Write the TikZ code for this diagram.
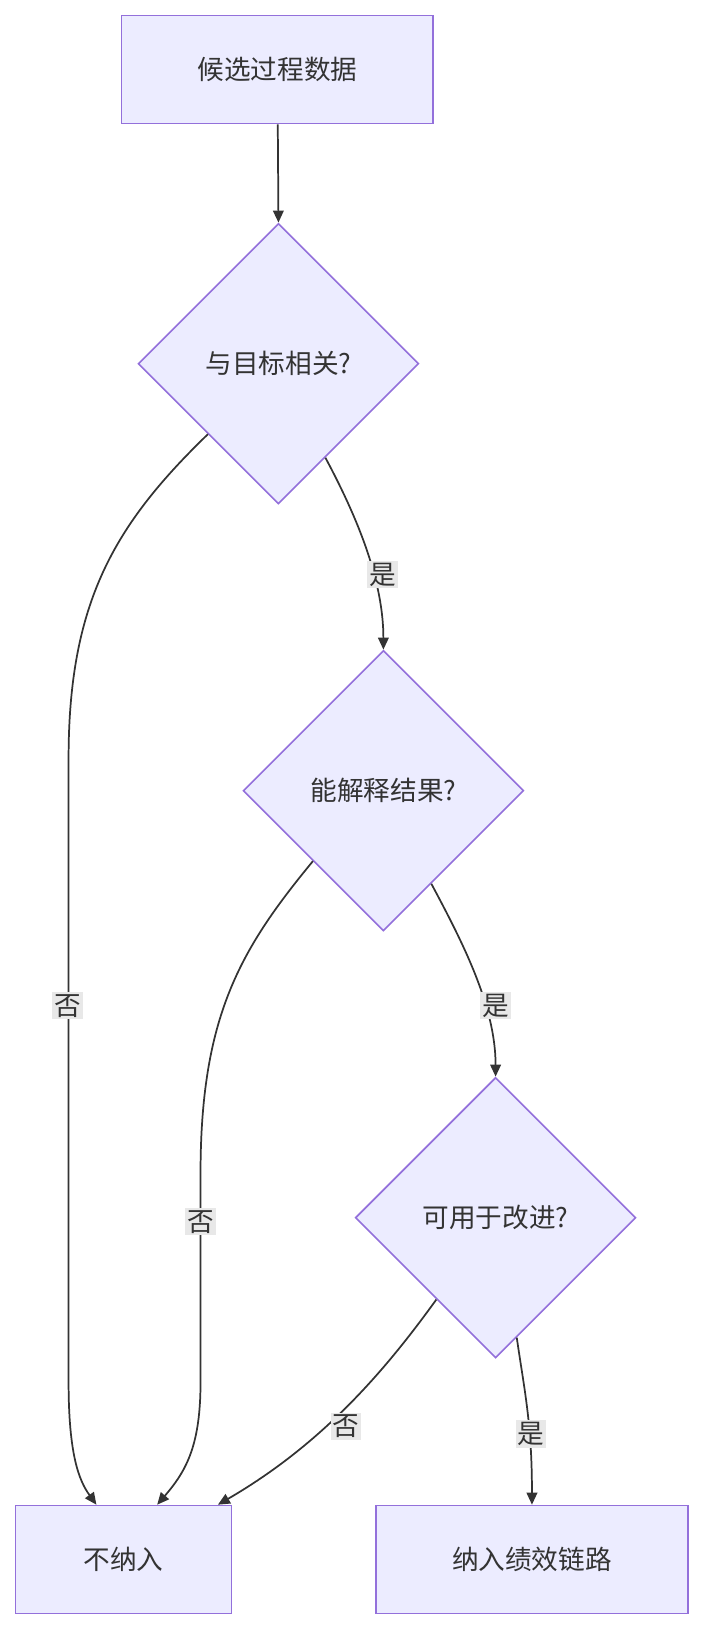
\documentclass[tikz,border=0pt]{standalone}
\usepackage{fontspec}
\setmainfont{Noto Sans CJK SC}
\usetikzlibrary{shapes.geometric,calc,arrows.meta}
\definecolor{nfill}{HTML}{ECECFF}
\definecolor{nline}{HTML}{9370DB}
\definecolor{ed}{HTML}{333333}
\definecolor{lbl}{HTML}{E8E8E8}
\begin{document}
\begin{tikzpicture}[x=0.78pt,y=-0.78pt,
  every node/.style={font=\fontsize{20}{24}\selectfont, text=ed},
  box/.style={draw=nline, fill=nfill, line width=1.2pt, rectangle, inner sep=0pt},
  dia/.style={draw=nline, fill=nfill, line width=1.2pt, diamond, minimum width=270*0.78pt, minimum height=270*0.78pt, inner sep=0pt},
  edge/.style={draw=ed, line width=1.3pt, -{Triangle[length=9pt,width=8pt]}},
  lab/.style={fill=lbl, inner sep=1.5pt}]
\useasboundingbox (0,0) rectangle (676.6,1569.8);
\node[box, minimum width=300*0.78pt, minimum height=104*0.78pt] (b1) at (267,67) {候选过程数据};
\node[dia] (d1) at (268,350) {与目标相关?};
\node[dia] (d2) at (369,761) {能解释结果?};
\node[dia] (d3) at (477,1172) {可用于改进?};
\node[box, minimum width=208*0.78pt, minimum height=104*0.78pt] (b2) at (119,1501) {不纳入};
\node[box, minimum width=300*0.78pt, minimum height=104*0.78pt] (b3) at (512,1501) {纳入绩效链路};

\draw[edge] (b1) -- (d1.north);
\draw[edge] ($(d1.east)!0.667!(d1.south)$) .. controls (345,500) and (369,560) .. (d2.north);
\draw[edge] ($(d1.west)!0.5!(d1.south)$) .. controls (110,505) and (66,580) .. (66,730) -- (66,1330) .. controls (66,1400) and (76,1425) .. ($(b2.north west)!0.375!(b2.north east)$);
\draw[edge] ($(d2.east)!0.66!(d2.south)$) .. controls (447,910) and (477,970) .. (d3.north);
\draw[edge] ($(d2.west)!0.5!(d2.south)$) .. controls (230,915) and (193,980) .. (193,1130) -- (193,1330) .. controls (193,1390) and (180,1415) .. ($(b2.north west)!0.654!(b2.north east)$);
\draw[edge] ($(d3.west)!0.58!(d3.south)$) .. controls (370,1320) and (310,1390) .. ($(b2.north west)!0.933!(b2.north east)$);
\draw[edge] ($(d3.east)!0.85!(d3.south)$) .. controls (505,1340) and (512,1370) .. (b3.north);

\node[lab] (l1) at (368,553) {是};
\node[lab] (l2) at (65,968) {否};
\node[lab] (l3) at (477,968) {是};
\node[lab] (l4) at (193,1176) {否};
\node[lab] (l5) at (333,1373) {否};
\node[lab] (l6) at (511,1380) {是};
\end{tikzpicture}
\end{document}
